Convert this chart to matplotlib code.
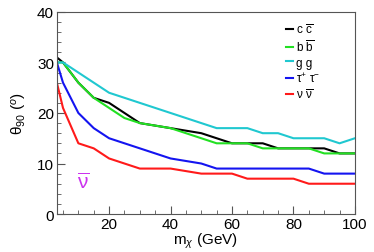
import numpy as np
import matplotlib
matplotlib.use("Agg")
import matplotlib.pyplot as plt
from matplotlib.ticker import MultipleLocator

plt.rcParams['font.family'] = ['Liberation Sans', 'DejaVu Sans']
plt.rcParams['mathtext.fontset'] = 'custom'
plt.rcParams['mathtext.rm'] = 'Liberation Sans'
plt.rcParams['mathtext.it'] = 'Liberation Sans:italic'

# masses (GeV)
m = [3, 5, 10, 15, 20, 25, 30, 40, 50, 55, 60, 65, 70, 75, 80, 85, 90, 95, 100]
# theta_90 (deg) per channel
cc = [31, 30, 26, 23, 22, 20, 18, 17, 16, 15, 14, 14, 14, 13, 13, 13, 13, 12, 12]
bb = [30, 30, 26, 23, 21, 19, 18, 17, 15, 14, 14, 14, 13, 13, 13, 13, 12, 12, 12]
gg = [30, 30, 28, 26, 24, 23, 22, 20, 18, 17, 17, 17, 16, 16, 15, 15, 15, 14, 15]
tautau = [30, 26, 20, 17, 15, 14, 13, 11, 10, 9, 9, 9, 9, 9, 9, 9, 8, 8, 8]
nunu = [26, 21, 14, 13, 11, 10, 9, 9, 8, 8, 8, 7, 7, 7, 7, 6, 6, 6, 6]

series = [(cc, 'black', r'c $\overline{\mathrm{c}}$'),
          (bb, '#22e022', r'b $\overline{\mathrm{b}}$'),
          (gg, '#20c8d0', 'g g'),
          (tautau, '#1414f0', r'$\mathrm{\tau}^{+}$ $\mathrm{\tau}^{-}$'),
          (nunu, '#ff1a1a', r'$\mathrm{\nu}$ $\overline{\mathrm{\nu}}$')]

fig = plt.figure(figsize=(3.74, 2.53), dpi=100)
ax = fig.add_axes([0.152, 0.150, 0.797, 0.799])
for y, c, lab in series:
    ax.plot(m, y, color=c, lw=1.5, label=lab)

ax.set_xlim(3, 100)
ax.set_ylim(0, 40)
ax.xaxis.set_major_locator(MultipleLocator(20))
ax.xaxis.set_minor_locator(MultipleLocator(5))
ax.yaxis.set_major_locator(MultipleLocator(10))
ax.yaxis.set_minor_locator(MultipleLocator(2))
ax.tick_params(which='both', direction='in', top=False, right=False,
               labelsize=11, pad=2, color='#555555')
ax.tick_params(which='major', length=6)
ax.tick_params(which='minor', length=3)
for s in ax.spines.values():
    s.set_color('#555555')

ax.set_xlabel(r'm$_{\chi}$ (GeV)', fontsize=11, labelpad=0)
ax.set_ylabel(r'$\mathrm{\theta}_{90}$ ($^{o}$)', fontsize=11, labelpad=6)

ax.text(11.5, 6.5, r'$\overline{\mathrm{\nu}}$', color='#cc33ee', fontsize=15,
        ha='center', va='center')

leg = ax.legend(loc='upper left', bbox_to_anchor=(0.745, 0.985), frameon=False,
                fontsize=8.5, handlelength=0.6, handletextpad=0.25,
                labelspacing=0.2, borderaxespad=0.2)

fig.savefig('out.png', dpi=100)
